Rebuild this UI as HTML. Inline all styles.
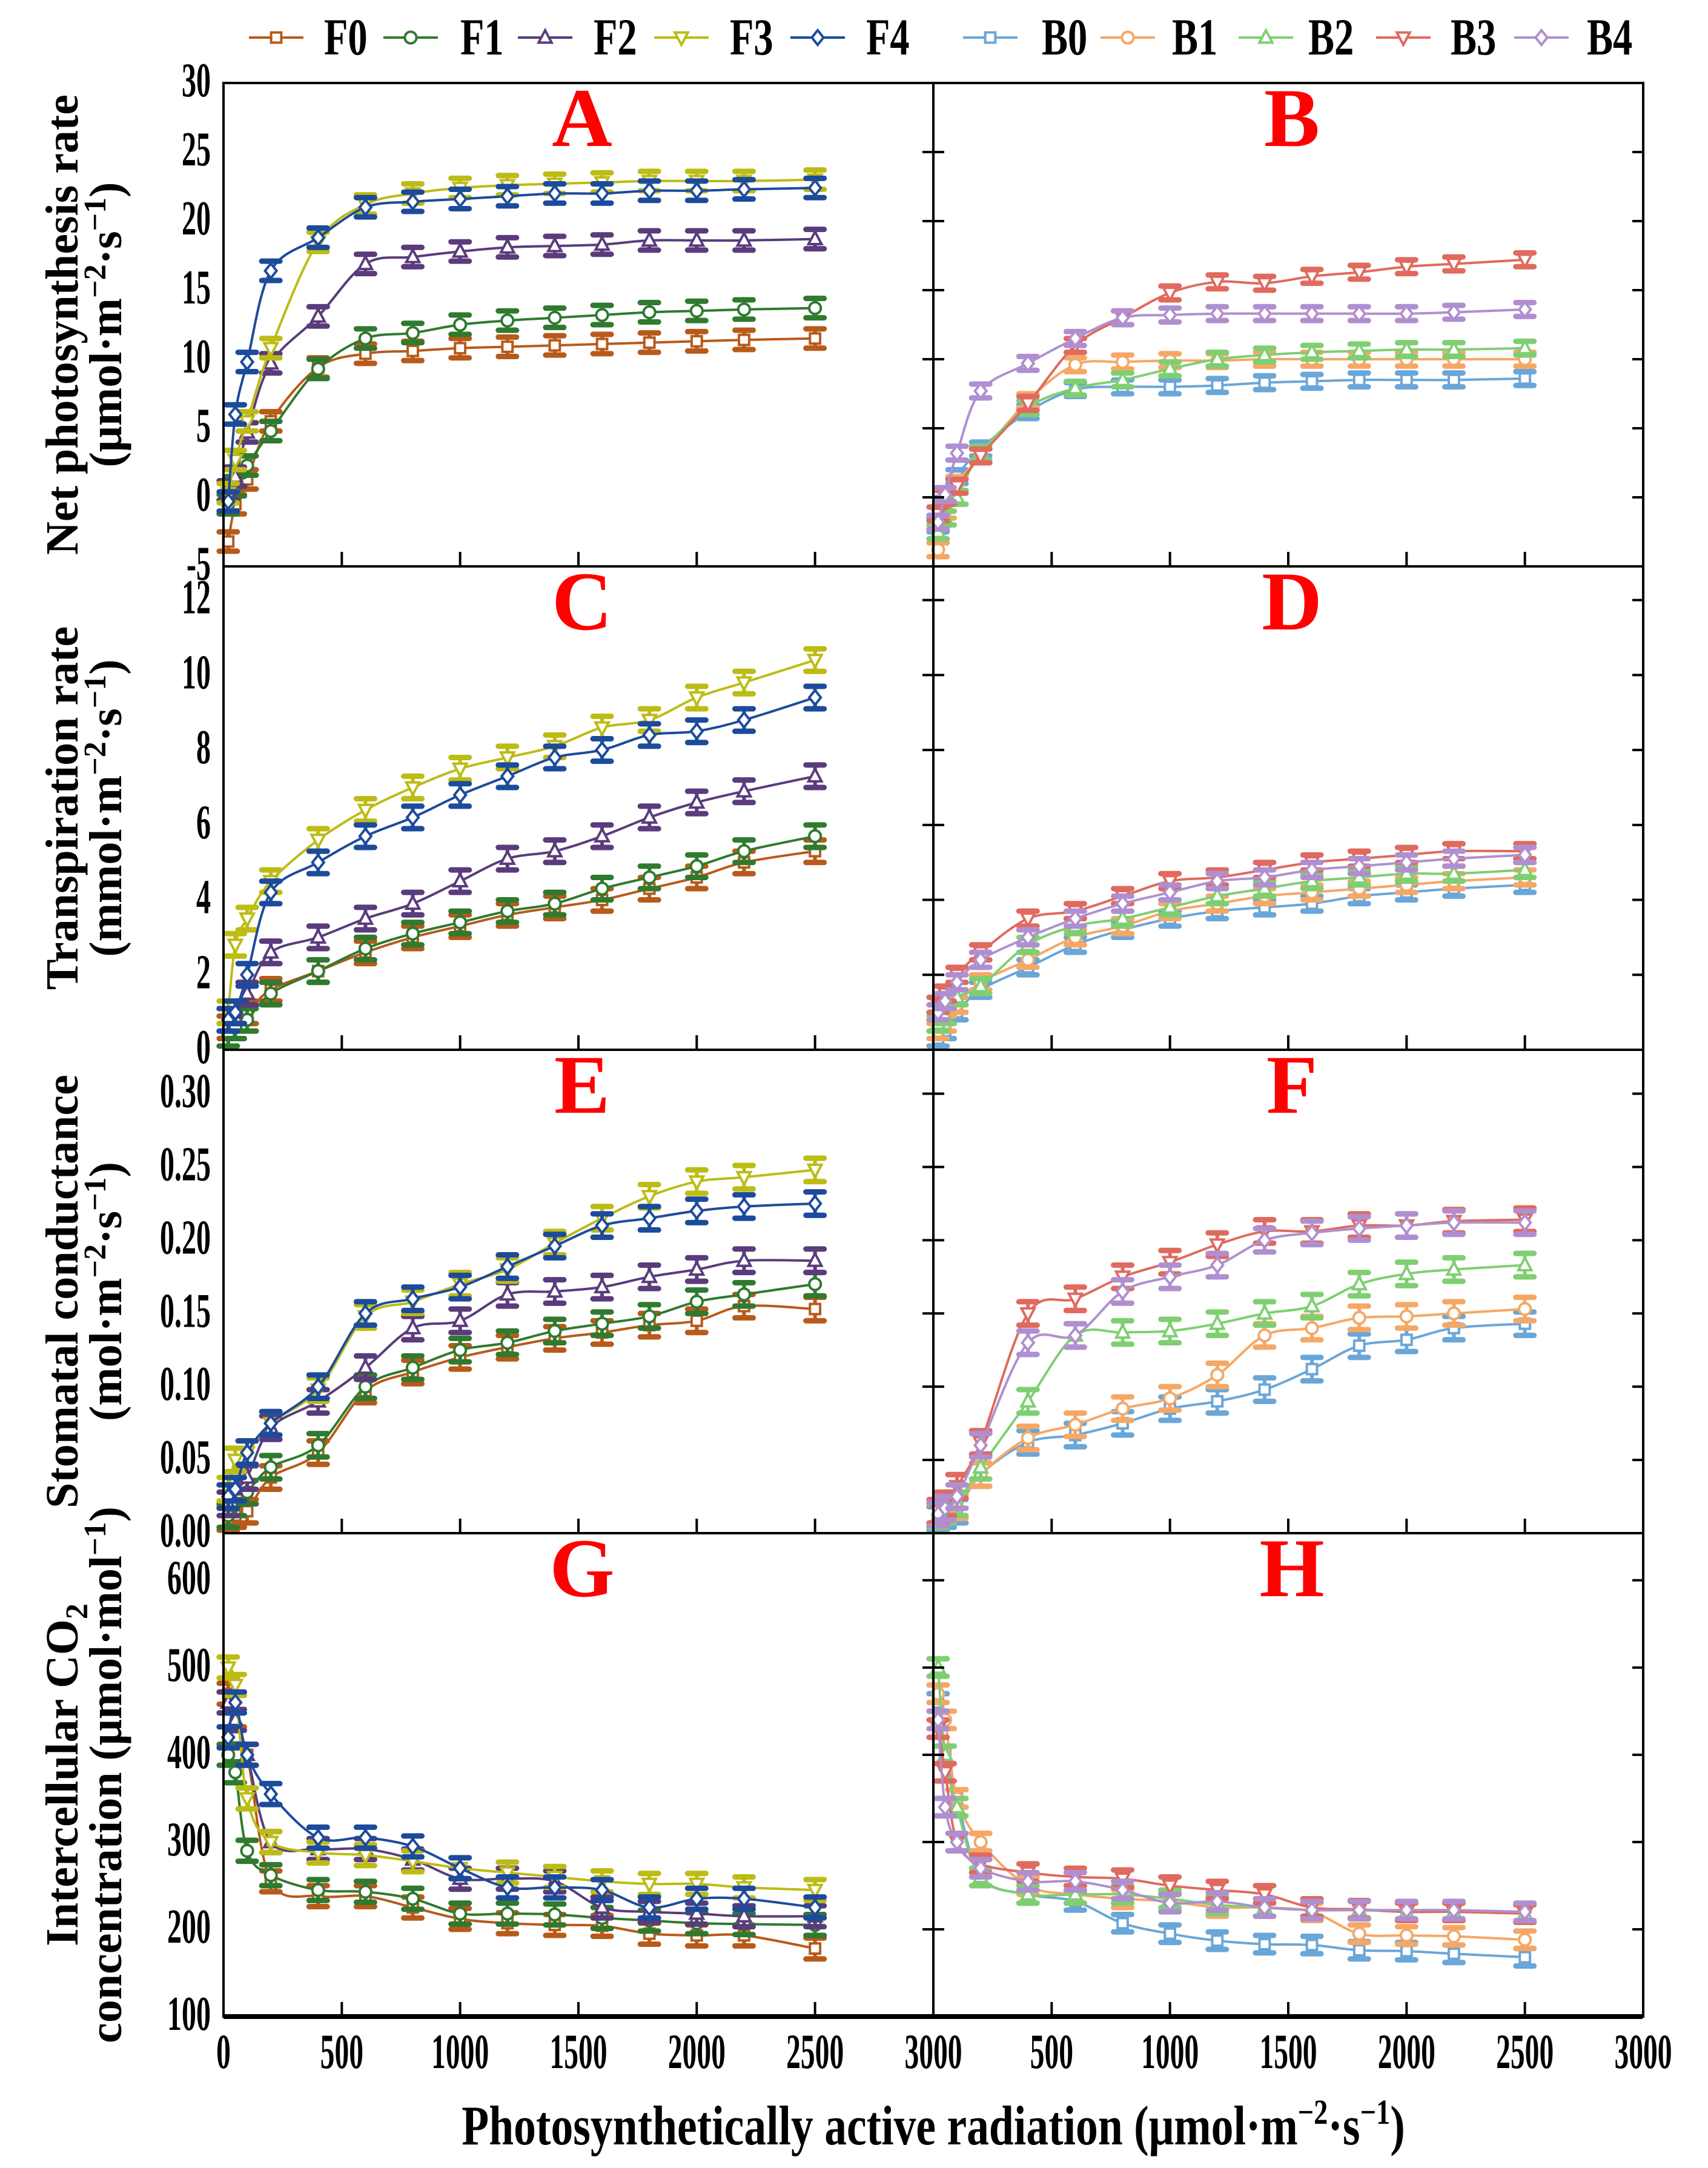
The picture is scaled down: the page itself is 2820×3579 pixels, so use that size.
<!DOCTYPE html>
<html><head><meta charset="utf-8"><style>
html,body{margin:0;padding:0;background:#fff}
svg{display:block}
text{font-family:"Liberation Serif",serif;font-weight:bold}
</style></head><body>
<svg id="chart" width="2820" height="3579" viewBox="0 0 2820 3579" xmlns="http://www.w3.org/2000/svg"></svg>
<script>
const xVals=[20,50,100,200,400,600,800,1000,1200,1400,1600,1800,2000,2200,2500];
const xTicks=[0,500,1000,1500,2000,2500,3000];
const fNames=["F0","F1","F2","F3","F4"];
const bNames=["B0","B1","B2","B3","B4"];
const fColors=["#b85a1a","#2f7a2f","#5a3b7c","#bcbc14","#1c4b9c"];
const bColors=["#6aa6d8","#f5a866","#7fcf72","#e06a5e","#b08fd0"];
const markers=["square","circle","triangle","tridown","diamond"];
// Panel A / B: net photosynthesis
const pnF=[[-3.2,-0.5,1.3,5.5,9.4,10.4,10.6,10.8,10.9,11.0,11.1,11.2,11.3,11.4,11.5],
[-0.5,0.8,2.3,4.8,9.3,11.5,11.9,12.5,12.8,13.0,13.2,13.4,13.5,13.6,13.7],
[0.5,1.5,4.7,9.7,13.1,16.9,17.4,17.8,18.1,18.2,18.3,18.6,18.6,18.6,18.7],
[0.3,2.7,5.5,10.8,18.5,21.2,22.0,22.4,22.6,22.7,22.8,22.9,22.9,22.9,23.0],
[-0.3,6.0,9.8,16.4,18.8,21.0,21.4,21.6,21.8,22.0,22.0,22.2,22.2,22.3,22.4]];
const pnB=[[-2,-0.5,1.5,3.5,6.2,7.8,8.0,8.0,8.1,8.3,8.4,8.5,8.5,8.5,8.6],
[-3.8,-1,1,3,7,9.6,9.8,9.9,9.9,10.0,10.0,10.0,10.0,10.0,10.0],
[-2.5,-1.5,0,3.2,6.5,7.9,8.5,9.3,10.0,10.3,10.5,10.6,10.7,10.7,10.8],
[-1.2,0,0.8,3,6.8,11.0,13.0,14.8,15.6,15.5,16.0,16.3,16.7,16.9,17.2],
[-1.8,0.2,3.2,7.7,9.7,11.5,13.0,13.2,13.3,13.3,13.3,13.3,13.3,13.4,13.6]];
// Panel C / D: transpiration
const trF=[[0.6,0.8,1.0,1.6,2.1,2.6,3.0,3.3,3.6,3.8,4.0,4.3,4.6,5.0,5.3],
[0.4,0.6,0.8,1.5,2.1,2.7,3.1,3.4,3.7,3.9,4.3,4.6,4.9,5.3,5.7],
[0.8,1.0,1.5,2.6,3.0,3.5,3.9,4.5,5.1,5.3,5.7,6.2,6.6,6.9,7.3],
[1.0,2.8,3.5,4.5,5.6,6.4,7.0,7.5,7.8,8.1,8.6,8.8,9.4,9.8,10.4],
[0.8,1.0,2.0,4.2,5.0,5.7,6.2,6.8,7.3,7.8,8.0,8.4,8.5,8.8,9.4]];
const trB=[[0.3,0.5,1.0,1.6,2.2,2.8,3.2,3.5,3.7,3.8,3.9,4.1,4.2,4.3,4.4],
[0.5,0.7,1.2,1.8,2.4,3.0,3.3,3.7,3.9,4.1,4.2,4.3,4.4,4.5,4.6],
[0.7,0.9,1.4,1.7,2.8,3.3,3.5,3.8,4.1,4.3,4.5,4.6,4.7,4.7,4.8],
[1.2,1.5,2.0,2.6,3.5,3.7,4.1,4.5,4.6,4.8,5.0,5.1,5.2,5.3,5.3],
[1.0,1.3,1.8,2.4,3.0,3.5,3.9,4.2,4.5,4.6,4.8,4.9,5.0,5.1,5.2]];
// Panel E / F: stomatal conductance
const gsF=[[0.01,0.012,0.015,0.038,0.055,0.097,0.11,0.12,0.127,0.133,0.137,0.142,0.145,0.155,0.153],
[0.012,0.02,0.028,0.045,0.06,0.1,0.113,0.125,0.13,0.138,0.143,0.148,0.158,0.163,0.17],
[0.02,0.03,0.038,0.072,0.09,0.113,0.14,0.145,0.163,0.165,0.168,0.175,0.18,0.186,0.186],
[0.03,0.05,0.055,0.075,0.098,0.148,0.158,0.17,0.18,0.198,0.215,0.23,0.24,0.243,0.248],
[0.025,0.03,0.055,0.075,0.1,0.15,0.16,0.168,0.182,0.196,0.21,0.215,0.22,0.223,0.225]];
const gsB=[[0.01,0.012,0.015,0.04,0.062,0.067,0.075,0.085,0.09,0.098,0.112,0.128,0.132,0.14,0.143],
[0.012,0.015,0.018,0.04,0.065,0.074,0.085,0.092,0.108,0.135,0.14,0.147,0.148,0.15,0.153],
[0.012,0.015,0.02,0.045,0.09,0.135,0.137,0.138,0.143,0.15,0.155,0.17,0.177,0.18,0.183],
[0.015,0.02,0.032,0.062,0.15,0.16,0.175,0.185,0.197,0.206,0.206,0.21,0.21,0.213,0.214],
[0.013,0.017,0.025,0.06,0.13,0.135,0.165,0.175,0.183,0.2,0.205,0.208,0.21,0.212,0.212]];
// Panel G / H: intercellular CO2
const ciF=[[470,420,400,255,238,238,225,212,207,205,204,195,193,193,178],
[400,380,290,262,245,243,235,218,218,217,213,210,207,206,205],
[460,440,400,300,292,292,280,258,258,255,225,220,218,215,215],
[500,480,350,300,288,285,278,270,265,260,255,252,252,248,245],
[420,460,400,355,305,305,295,270,248,248,245,225,235,235,225]];
const ciB=[[460,400,350,260,240,232,207,195,187,183,182,176,175,172,168],
[470,440,350,300,250,240,235,232,225,225,220,195,193,192,188],
[500,400,340,260,240,240,240,235,228,225,222,222,220,220,218],
[430,380,300,275,265,260,258,250,245,240,225,223,220,220,218],
[440,340,300,270,255,255,245,230,232,225,222,222,222,222,220]];
const yTicksA=[-5,0,5,10,15,20,25,30];
const yTicksC=[0,2,4,6,8,10,12];
const yTicksE=[0,0.05,0.10,0.15,0.20,0.25,0.30];
const yTicksG=[100,200,300,400,500,600];
const yLabelsE=["0.00","0.05","0.10","0.15","0.20","0.25","0.30"];

const NS="http://www.w3.org/2000/svg";
const svg=document.getElementById("chart");
function el(tag,attrs,parent){const e=document.createElementNS(NS,tag);for(const k in attrs)e.setAttribute(k,attrs[k]);(parent||svg).appendChild(e);return e;}
const L=369,M=1541,R=2712,W=M-L;
const rows=[137,935,1733,2531,3329];
function xs(col,v){return (col?M:L)+v/3000*W;}

const panels=[
 {row:0,col:0,letter:"A",data:pnF,names:fNames,colors:fColors,ymin:-5,ymax:30,err:0.7},
 {row:0,col:1,letter:"B",data:pnB,names:bNames,colors:bColors,ymin:-5,ymax:30,err:0.5},
 {row:1,col:0,letter:"C",data:trF,names:fNames,colors:fColors,ymin:0,ymax:12.9,err:0.3},
 {row:1,col:1,letter:"D",data:trB,names:bNames,colors:bColors,ymin:0,ymax:12.9,err:0.2},
 {row:2,col:0,letter:"E",data:gsF,names:fNames,colors:fColors,ymin:0,ymax:0.33,err:0.008},
 {row:2,col:1,letter:"F",data:gsB,names:bNames,colors:bColors,ymin:0,ymax:0.33,err:0.008},
 {row:3,col:0,letter:"G",data:ciF,names:fNames,colors:fColors,ymin:100,ymax:654,err:12},
 {row:3,col:1,letter:"H",data:ciB,names:bNames,colors:bColors,ymin:100,ymax:654,err:10}];

function spline(pts){let d="M"+pts[0][0]+","+pts[0][1];
 for(let i=0;i<pts.length-1;i++){const p0=pts[Math.max(0,i-1)],p1=pts[i],p2=pts[i+1],p3=pts[Math.min(pts.length-1,i+2)];
  const c1=[p1[0]+(p2[0]-p0[0])/6,p1[1]+(p2[1]-p0[1])/6],c2=[p2[0]-(p3[0]-p1[0])/6,p2[1]-(p3[1]-p1[1])/6];
  d+=` C${c1[0]},${c1[1]} ${c2[0]},${c2[1]} ${p2[0]},${p2[1]}`;}return d;}
function marker(g,type,x,y,c,s){
 const a={fill:"#fff",stroke:c,"stroke-width":4};let m;
 if(type==="square")m=el("rect",Object.assign({x:x-s*0.7,y:y-s*0.7,width:s*1.4,height:s*1.4},a),g);
 else if(type==="circle")m=el("circle",Object.assign({cx:x,cy:y,r:s*0.8},a),g);
 else if(type==="triangle")m=el("polygon",Object.assign({points:`${x},${y-s} ${x-s*0.9},${y+s*0.7} ${x+s*0.9},${y+s*0.7}`},a),g);
 else if(type==="tridown")m=el("polygon",Object.assign({points:`${x},${y+s} ${x-s*0.9},${y-s*0.7} ${x+s*0.9},${y-s*0.7}`},a),g);
 else m=el("polygon",Object.assign({points:`${x},${y-s} ${x-s*0.8},${y} ${x},${y+s} ${x+s*0.8},${y}`},a),g);
 return m;}
function ctext(x,y,size,sx,anchor,txt,parent){
 const t=el("text",{x:0,y:0,"font-size":size,"text-anchor":anchor,transform:`translate(${x},${y}) scale(${sx},1)`},parent);
 t.textContent=txt;return t;}

panels.forEach(p=>{
 const top=rows[p.row],bot=rows[p.row+1],H=bot-top;
 const ys=v=>bot-(v-p.ymin)/(p.ymax-p.ymin)*H;
 const g=el("g",{});
 
 
 const clipId="clip"+p.letter;
 const cp=el("clipPath",{id:clipId},g);el("rect",{x:xs(p.col,0)-30,y:top,width:W+30,height:H},cp);
 const dg=el("g",{"clip-path":`url(#${clipId})`},g);
 p.data.forEach((ser,si)=>{
  const c=p.colors[si];
  const sg=el("g",{},dg);
  
  
  const pts=ser.map((v,i)=>[xs(p.col,xVals[i]),ys(v)]);
  el("path",{d:spline(pts),fill:"none",stroke:c,"stroke-width":4},sg);
  ser.forEach((v,i)=>{
   const x=xs(p.col,xVals[i]),y1=ys(v+p.err),y2=ys(v-p.err);
   el("line",{x1:x,x2:x,y1:y1,y2:y2,stroke:c,"stroke-width":6},sg);
   el("line",{x1:x-15,x2:x+15,y1:y1,y2:y1,stroke:c,"stroke-width":9,"stroke-linecap":"round"},sg);
   el("line",{x1:x-15,x2:x+15,y1:y2,y2:y2,stroke:c,"stroke-width":9,"stroke-linecap":"round"},sg);
   const m=marker(sg,markers[si],x,ys(v),c,12);
   
   
  });
 });
 const x0=xs(p.col,0),x1=x0+W;
 el("rect",{x:x0,y:top,width:W,height:H,fill:"none",stroke:"#000","stroke-width":4},g);
 const ticks=[yTicksA,yTicksC,yTicksE,yTicksG][p.row];
 ticks.forEach((t,i)=>{const y=ys(t);
  el("line",{x1:x1,x2:x1-18,y1:y,y2:y,stroke:"#000","stroke-width":4},g);
  if(p.col===0){const tl=ctext(348,y+22,80,0.6,"end",p.row===2?yLabelsE[i]:String(t),g);
   
   }
  else el("line",{x1:x0,x2:x0+18,y1:y,y2:y,stroke:"#000","stroke-width":4},g);
 });
 xTicks.forEach(t=>{if(t===0||t===3000)return;const x=xs(p.col,t);
  el("line",{x1:x,x2:x,y1:bot,y2:bot-24,stroke:"#000","stroke-width":4},g);});
 const lt=el("text",{x:xs(p.col,1500)+6,y:top+104,"font-size":138,fill:"#f00","text-anchor":"middle"},g);
 lt.textContent=p.letter;
 
 
});
el("line",{x1:L,x2:R,y1:3329,y2:3329,stroke:"#000","stroke-width":8});
[0,1].forEach(col=>xTicks.forEach(t=>{if(col===1&&t===0)return;
 const tx=ctext(xs(col,t),3414,82,0.58,"middle",String(t));
 
 }));
const xt=el("text",{x:0,y:0,"font-size":92,"text-anchor":"middle",transform:"translate(1541,3540) scale(0.8,1)"});
xt.innerHTML='Photosynthetically active radiation (μmol·m<tspan dy="-34" font-size="58">−2</tspan><tspan dy="34">·s</tspan><tspan dy="-34" font-size="58">−1</tspan><tspan dy="34">)</tspan>';


const yt=[["Net photosynthesis rate",'(μmol·m<tspan dy="-26" font-size="52">−2</tspan><tspan dy="26">·s</tspan><tspan dy="-26" font-size="52">−1</tspan><tspan dy="26">)</tspan>'],
["Transpiration rate",'(mmol·m<tspan dy="-26" font-size="52">−2</tspan><tspan dy="26">·s</tspan><tspan dy="-26" font-size="52">−1</tspan><tspan dy="26">)</tspan>'],
["Stomatal conductance",'(mol·m<tspan dy="-26" font-size="52">−2</tspan><tspan dy="26">·s</tspan><tspan dy="-26" font-size="52">−1</tspan><tspan dy="26">)</tspan>'],
["Intercellular CO<tspan dy=\"16\" font-size=\"52\">2</tspan>",'concentration (μmol·mol<tspan dy="-26" font-size="52">−1</tspan><tspan dy="26">)</tspan>']];
yt.forEach((t,i)=>{const cy=(rows[i]+rows[i+1])/2;
 [0,1].forEach(j=>{const x=j?200:128;const tt=el("text",{x:x,y:cy,"font-size":76,"text-anchor":"middle",transform:`rotate(-90 ${x} ${cy})`});
  tt.innerHTML=t[j];
  
  });});
const legX=[[411,535],[633,760],[855,980],[1080,1205],[1305,1430],[1590,1720],[1817,1935],[2045,2160],[2272,2395],[2500,2620]];
fNames.concat(bNames).forEach((n,i)=>{const g=el("g",{});
 
 
 const c=i<5?fColors[i]:bColors[i-5];const[lx,tx]=legX[i];
 el("line",{x1:lx,x2:lx+90,y1:62,y2:62,stroke:c,"stroke-width":4},g);
 marker(g,markers[i%5],lx+45,62,c,12);
 ctext(tx,90,86,0.75,"start",n,g);});
</script>
</body></html>
